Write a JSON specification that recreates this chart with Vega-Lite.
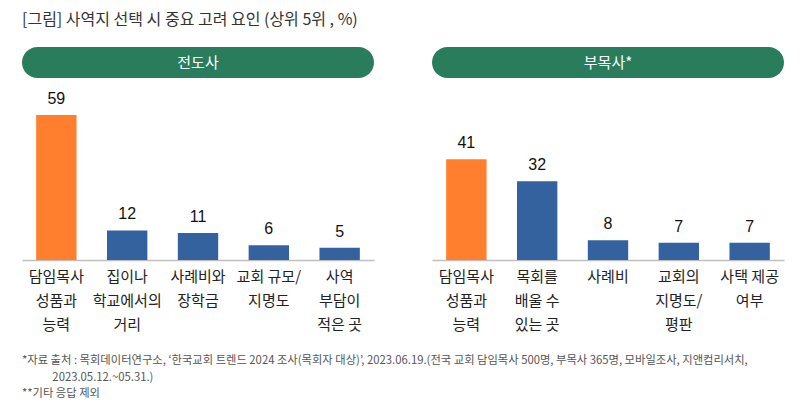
{
  "$schema": "https://vega.github.io/schema/vega-lite/v6.json",
  "padding": {"top": 12, "left": 22, "right": 10, "bottom": 5},
  "background": "white",
  "config": {
    "view": {"stroke": null},
    "font": "Noto Sans CJK KR"
  },
  "title": {
    "text": "[그림] 사역지 선택 시 중요 고려 요인 (상위 5위 , %)",
    "anchor": "start",
    "fontSize": 16,
    "fontWeight": "normal",
    "color": "#333333",
    "font": "Noto Sans CJK KR",
    "offset": 19
  },
  "datasets": {
    "bars": [
      {"panel": "전도사", "order": 1, "label": "담임목사\n성품과\n능력", "value": 59, "top": "yes"},
      {"panel": "전도사", "order": 2, "label": "집이나\n학교에서의\n거리", "value": 12, "top": "no"},
      {"panel": "전도사", "order": 3, "label": "사례비와\n장학금", "value": 11, "top": "no"},
      {"panel": "전도사", "order": 4, "label": "교회 규모/\n지명도", "value": 6, "top": "no"},
      {"panel": "전도사", "order": 5, "label": "사역\n부담이\n적은 곳", "value": 5, "top": "no"},
      {"panel": "부목사*", "order": 1, "label": "담임목사\n성품과\n능력", "value": 41, "top": "yes"},
      {"panel": "부목사*", "order": 2, "label": "목회를\n배울 수\n있는 곳", "value": 32, "top": "no"},
      {"panel": "부목사*", "order": 3, "label": "사례비", "value": 8, "top": "no"},
      {"panel": "부목사*", "order": 4, "label": "교회의\n지명도/\n평판", "value": 7, "top": "no"},
      {"panel": "부목사*", "order": 5, "label": "사택 제공\n여부", "value": 7, "top": "no"}
    ],
    "headers": [
      {"panel": "전도사"},
      {"panel": "부목사*"}
    ]
  },
  "vconcat": [
    {
      "title": {
        "text": [
          "*자료 출처 : 목회데이터연구소, ‘한국교회 트렌드 2024 조사(목회자 대상)’, 2023.06.19.(전국 교회 담임목사 500명, 부목사 365명, 모바일조사, 지앤컴리서치,",
          "\u200b\u00a0\u00a0\u00a0\u00a0\u00a0\u00a0\u00a0\u00a0\u00a0\u00a0\u00a0\u00a02023.05.12.~05.31.)",
          "**기타 응답 제외"
        ],
        "orient": "bottom",
        "anchor": "start",
        "fontSize": 11.3,
        "fontWeight": "normal",
        "color": "#555555",
        "lineHeight": 16.5,
        "offset": 23
      },
      "spacing": 58,
      "hconcat": [
        {
          "spacing": 0,
          "vconcat": [
            {
              "data": {"name": "headers"},
              "transform": [{"filter": "datum.panel === '전도사'"}],
              "width": 352,
              "height": 31,
              "layer": [
                {"mark": {"type": "rect", "cornerRadius": 15.5, "color": "#2A7D5C"}},
                {"mark": {"type": "text", "color": "white", "fontSize": 15, "baseline": "middle", "align": "center"}, "encoding": {"text": {"field": "panel"}}}
              ]
            },
            {
              "data": {"name": "bars"},
              "transform": [{"filter": "datum.panel === '전도사'"}],
              "width": 352,
              "height": 182,
              "encoding": {
                "x": {
                  "field": "label", "type": "nominal", "sort": {"field": "order"},
                  "scale": {"paddingInner": 0.43, "paddingOuter": 0.2},
                  "axis": {"title": null, "labelAngle": 0, "ticks": false, "domainColor": "#bfbfbf", "domainWidth": 1.5, "labelFontSize": 15, "labelColor": "#222222", "labelLineHeight": 24, "labelPadding": 9, "labelLimit": 200, "labelOverlap": false, "labelBaseline": "top", "labelExpr": "split(datum.label, '\\n')"}
                },
                "y": {"field": "value", "type": "quantitative", "scale": {"domain": [0, 74], "nice": false}, "axis": null}
              },
              "layer": [
                {
                  "mark": {"type": "bar"},
                  "encoding": {
                    "color": {"field": "top", "type": "nominal", "scale": {"domain": ["yes", "no"], "range": ["#FF7F2E", "#33629E"]}, "legend": null}
                  }
                },
                {
                  "mark": {"type": "text", "baseline": "bottom", "dy": -8, "fontSize": 16, "color": "#111111", "font": "Liberation Sans"},
                  "encoding": {"text": {"field": "value", "type": "quantitative"}}
                }
              ]
            }
          ]
        },
        {
          "spacing": 0,
          "vconcat": [
            {
              "data": {"name": "headers"},
              "transform": [{"filter": "datum.panel === '부목사*'"}],
              "width": 352,
              "height": 31,
              "layer": [
                {"mark": {"type": "rect", "cornerRadius": 15.5, "color": "#2A7D5C"}},
                {"mark": {"type": "text", "color": "white", "fontSize": 15, "baseline": "middle", "align": "center"}, "encoding": {"text": {"field": "panel"}}}
              ]
            },
            {
              "data": {"name": "bars"},
              "transform": [{"filter": "datum.panel === '부목사*'"}],
              "width": 352,
              "height": 182,
              "encoding": {
                "x": {
                  "field": "label", "type": "nominal", "sort": {"field": "order"},
                  "scale": {"paddingInner": 0.43, "paddingOuter": 0.2},
                  "axis": {"title": null, "labelAngle": 0, "ticks": false, "domainColor": "#bfbfbf", "domainWidth": 1.5, "labelFontSize": 15, "labelColor": "#222222", "labelLineHeight": 24, "labelPadding": 9, "labelLimit": 200, "labelOverlap": false, "labelBaseline": "top", "labelExpr": "split(datum.label, '\\n')"}
                },
                "y": {"field": "value", "type": "quantitative", "scale": {"domain": [0, 74], "nice": false}, "axis": null}
              },
              "layer": [
                {
                  "mark": {"type": "bar"},
                  "encoding": {
                    "color": {"field": "top", "type": "nominal", "scale": {"domain": ["yes", "no"], "range": ["#FF7F2E", "#33629E"]}, "legend": null}
                  }
                },
                {
                  "mark": {"type": "text", "baseline": "bottom", "dy": -8, "fontSize": 16, "color": "#111111", "font": "Liberation Sans"},
                  "encoding": {"text": {"field": "value", "type": "quantitative"}}
                }
              ]
            }
          ]
        }
      ]
    }
  ]
}
